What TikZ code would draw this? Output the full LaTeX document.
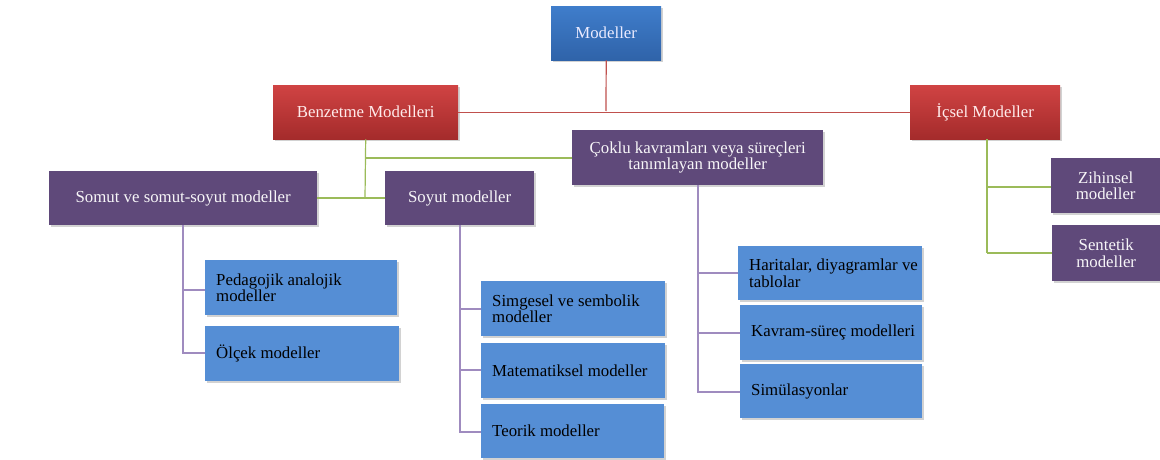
\documentclass[tikz,border=0pt]{standalone}
\usepackage{fontspec}
\setmainfont{Liberation Serif}
\usetikzlibrary{shadows}
\definecolor{topblue}{HTML}{3F7DCB}
\definecolor{topblueb}{HTML}{2F63A9}
\definecolor{redt}{HTML}{D04343}
\definecolor{redb}{HTML}{A42B2B}
\definecolor{purp}{HTML}{5F497A}
\definecolor{lblue}{HTML}{558ED5}
\definecolor{gline}{HTML}{9BBB59}
\definecolor{pline}{HTML}{9F8BBF}
\definecolor{rline}{HTML}{C0504D}
\tikzset{
  base/.style={anchor=north west, inner sep=2pt, font=\fontsize{16.8}{16.5}\selectfont,
    drop shadow={shadow xshift=2pt, shadow yshift=-2pt, opacity=0.35}},
  topbox/.style={base, top color=topblue, bottom color=topblueb, text=white!92!blue, align=center},
  redbox/.style={base, top color=redt, bottom color=redb, text=white!92!red, align=center},
  purbox/.style={base, fill=purp, text=white!95!purp, align=center},
  bluebox/.style={base, fill=lblue, text=black, inner xsep=0pt},
  gl/.style={draw=gline, line width=1.2pt},
  pl/.style={draw=pline, line width=1.2pt},
  rl/.style={draw=rline, line width=1.2pt},
}
\newcommand{\bx}[7]{% style, name, x, y, w, h, text
  \node[#1, minimum width=#5pt, minimum height=#6pt] (#2) at (#3,-#4) {#7};}
\newcommand{\bb}[7]{%
  \node[#1, minimum width=#5pt, minimum height=#6pt] (#2) at (#3,-#4)
    {\hspace*{10pt}\parbox[c]{\dimexpr#5pt-12pt\relax}{\raggedright #7}};}
\begin{document}
\begin{tikzpicture}[x=1pt,y=1pt]
\useasboundingbox[fill=white] (0,0) rectangle (1160,-460);
\coordinate (rj) at (606,-111);
\coordinate (gj) at (365,-158);
\coordinate (gs) at (365,-198);
\coordinate (ia) at (987,-187);
\coordinate (ib) at (987,-253);
\coordinate (sa) at (183,-290);
\coordinate (sb) at (183,-353);
\coordinate (ya) at (460,-309);
\coordinate (yb) at (460,-370);
\coordinate (yc) at (460,-432);
\coordinate (ca) at (698,-273);
\coordinate (cb) at (698,-333);
\coordinate (cc) at (698,-392);
% boxes
\bx{topbox}{mod}{551}{6}{110}{54}{Modeller}
\bx{redbox}{benz}{273}{85}{185}{54}{Benzetme Modelleri}
\bx{redbox}{icsel}{910}{85}{150}{54}{İçsel Modeller}
\bx{purbox}{coklu}{572}{130}{251}{55}{Çoklu kavramları veya  süreçleri\\tanımlayan modeller}
\bx{purbox}{somut}{49}{171}{268}{54}{Somut ve somut-soyut modeller}
\bx{purbox}{soyut}{385}{171}{149}{54}{Soyut modeller}
\bx{purbox}{zih}{1051}{158}{109}{55}{Zihinsel\\modeller}
\bx{purbox}{sen}{1052}{225}{108}{56}{Sentetik\\modeller}
\bb{bluebox}{ped}{205}{260}{192}{55}{Pedagojik analojik\\modeller}
\bb{bluebox}{olc}{205}{326}{194}{55}{Ölçek modeller}
\bb{bluebox}{sim}{481}{281}{184}{55}{Simgesel ve sembolik\\modeller}
\bb{bluebox}{mat}{481}{343}{184}{55}{Matematiksel modeller}
\bb{bluebox}{teo}{481}{404}{183}{54}{Teorik modeller}
\bb{bluebox}{har}{738}{246}{184}{54}{Haritalar, diyagramlar ve\\tablolar}
\bb{bluebox}{kav}{740}{305}{182}{55}{Kavram-süreç modelleri}
\bb{bluebox}{siml}{740}{364}{182}{54}{Simülasyonlar}
% lines
\draw[rl] (mod.south) -- (rj);
\draw[rl] (benz.east) -- (icsel.west);
\draw[gl] (benz.south) -- (gs);
\draw[gl] (gj) -- (coklu.west |- gj);
\draw[gl] (somut.east |- gs) -- (soyut.west |- gs);
\draw[gl] (icsel.south -| ia) -- (ib);
\draw[gl] (ia) -- (zih.west |- ia);
\draw[gl] (ib) -- (sen.west |- ib);
\draw[pl] (somut.south -| sa) -- (sb) -- (olc.west |- sb);
\draw[pl] (sa) -- (ped.west |- sa);
\draw[pl] (soyut.south -| ya) -- (yc) -- (teo.west |- yc);
\draw[pl] (ya) -- (sim.west |- ya);
\draw[pl] (yb) -- (mat.west |- yb);
\draw[pl] (coklu.south -| ca) -- (cc) -- (siml.west |- cc);
\draw[pl] (ca) -- (har.west |- ca);
\draw[pl] (cb) -- (kav.west |- cb);
\end{tikzpicture}
\end{document}
